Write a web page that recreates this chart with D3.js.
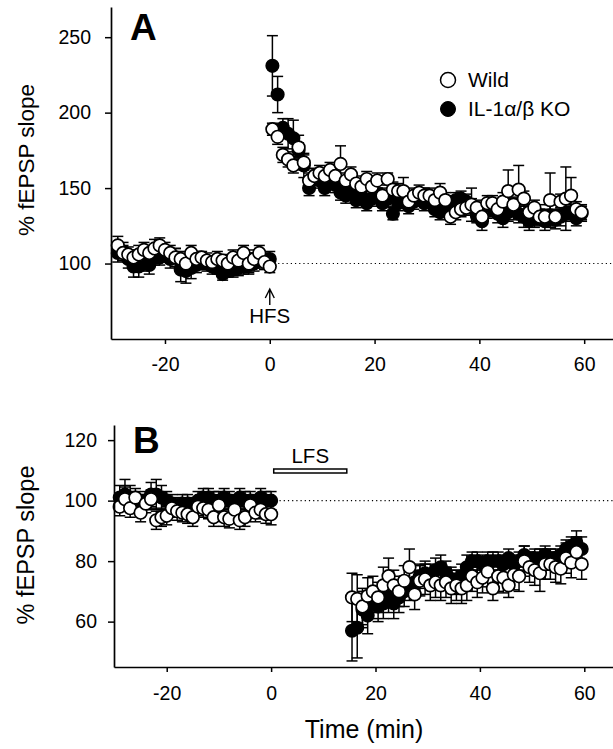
<!DOCTYPE html>
<html>
<head>
<meta charset="utf-8">
<script src="https://cdn.jsdelivr.net/npm/d3@7"></script>
<style>
  body { margin: 0; background: #ffffff; }
  svg { display: block; font-family: Arial, "Liberation Sans", sans-serif; }
</style>
</head>
<body>
<div id="main_output"></div>
<script>
// minutes before stimulation (shared by both panels)
var timeBase = [-29,-28,-27,-26,-25,-24,-23,-22,-21,-20,-19,-18,-17,-16,-15,-14,-13,-12,-11,-10,-9,-8,-7,-6,-5,-4,-3,-2,-1,0];

// panel A - HFS (LTP)
var timePostA = [0.5,1.5,2.5,3.5,4.5,5.5,6.5,7.5,8.5,9.5,10.5,11.5,12.5,13.5,14.5,15.5,16.5,17.5,18.5,19.5,
                 20.5,21.5,22.5,23.5,24.5,25.5,26.5,27.5,28.5,29.5,30.5,31.5,32.5,33.5,34.5,35.5,36.5,37.5,38.5,39.5,
                 40.5,41.5,42.5,43.5,44.5,45.5,46.5,47.5,48.5,49.5,50.5,51.5,52.5,53.5,54.5,55.5,56.5,57.5,58.5,59.5];
var wildBaseA = [112,107,106,104,106,109,107,110,112,109,107,104,103,100,107,103,104,102,101,103,102,100,104,102,107,100,103,107,101,98];
var wildBaseErrA = [6,5,5,5,6,5,5,6,5,5,5,6,5,6,5,5,4,5,4,5,4,5,5,5,5,7,6,5,5,4];
var koBaseA = [107,108,103,98,98,101,99,104,104,106,103,104,96,95,97,99,101,100,98,97,93,95,96,97,98,99,100,103,102,103];
var koBaseErrA = [6,6,6,7,7,6,6,5,5,5,6,6,8,8,7,5,5,5,5,4,4,4,5,5,5,5,5,5,5,5];
var wildPostA = [189,184,172,169,165,177,167,155,158,160,158,162,158,166,155,159,153,151,156,151,
                 155,145,156,149,148,148,141,145,147,145,145,142,147,142,131,134,136,137,139,137,
                 131,140,140,136,141,148,139,149,143,134,137,131,131,142,131,141,143,145,136,134];
var wildPostErrA = [4,5,5,5,5,8,5,5,5,5,5,5,5,12,5,5,5,5,5,5,
                    5,5,4,5,5,9,5,5,5,5,5,5,6,5,5,5,5,5,11,5,
                    5,5,5,5,6,14,5,16,5,5,5,5,5,18,5,5,21,12,5,5];
var koPostA = [231,212,190,186,183,175,165,150,158,155,150,155,152,147,145,147,142,145,140,143,
               145,140,143,133,140,143,138,141,143,140,142,136,134,137,140,142,143,141,138,132,
               128,135,136,133,130,134,136,133,131,128,130,132,128,132,129,131,133,134,130,133];
var koPostErrA = [20,12,6,10,12,5,8,5,5,5,5,5,5,5,5,5,5,5,5,5,
                  5,5,5,4,5,5,5,5,5,5,5,5,5,5,5,5,5,5,5,5,
                  6,5,5,6,6,6,7,6,7,6,6,7,6,7,6,6,5,5,5,5];

// panel B - LFS (LTD)
var timePostB = [15.5,16.5,17.5,18.5,19.5,20.5,21.5,22.5,23.5,24.5,25.5,26.5,27.5,28.5,29.5,30.5,31.5,32.5,33.5,34.5,
                 35.5,36.5,37.5,38.5,39.5,40.5,41.5,42.5,43.5,44.5,45.5,46.5,47.5,48.5,49.5,50.5,51.5,52.5,53.5,54.5,
                 55.5,56.5,57.5,58.5,59.5];
var wildBaseB = [98,100.5,97.5,101,96,99,100.5,93.5,94.5,95,97.5,96.5,96,95.5,94.5,98,97.5,97,94.5,98.5,94.5,94,97,93.5,94.5,98.5,96,97,95.5,95.5];
var wildBaseErrB = [3,4,3,3,3,3,3,3,3,3,3,3,3,3,3,3,3,3,3,3,3,3,3,3,3,3,3,3,3,3.5];
var koBaseB = [101,102,101,100,99,100,102,102,101,100,99,98,99,99,98,100,101,101,100,100,101,100,99,101,100,100,99,101,100,100];
var koBaseErrB = [4,5,4,3,3,3,4,5,4,3,3,3,3,3,3,3,3,3,3,3,3,3,3,3,3,3,3,3,3,3];
var wildPostB = [68,67.5,65,68.5,70,68,72,75,72,70,73.5,78,69,73.5,74,72,73,72,73,71,
                 72,71,72,75,73,74.5,76.5,71,75,74.5,72,75.5,75,80,78,77,76,79,79,78,
                 77.5,81,79.5,83,79];
var wildPostErrB = [8,8,6,6,5,5,6,6,5,5,5,6,5,5,5,5,5,5,5,5,
                    5,5,5,5,5,5,5,4,5,5,4,5,5,5,5,5,6,5,5,5,
                    5,5,5,5,5];
var koPostB = [57,58,64,62,66,65,66,68,66,68,70,72,73,75,76,75,77,78,76,74,
               73,75,78,80,80,79,80,80,80,79,81,79,80,82,80,81,81,82,80,81,
               82,84,85,86,84];
var koPostErrB = [10,10,6,6,5,5,5,5,5,5,5,5,4,4,4,4,4,4,4,4,
                  4,4,4,3,3,3,3,3,3,3,3,3,3,3,3,3,3,3,3,3,
                  3,3,3,4,4];

var xTicks = [-20, 0, 20, 40, 60];
var yTicksA = [100, 150, 200, 250];
var yTicksB = [60, 80, 100, 120];
var baselineLevel = 100;
var lfsStart = 0.5, lfsEnd = 14.5;

const width = 613, height = 749;
const radius = 6.3, capHalf = 5.5;

var svg = d3.select("#main_output").append("svg")
    .attr("width", width)
    .attr("height", height);

function zip(times, values, errs) {
  return times.map(function(t, i) { return {t: t, v: values[i], e: errs[i]}; });
}

function drawPanel(p) {
  var x = d3.scaleLinear().domain(p.xDomain).range(p.xRange);
  var y = d3.scaleLinear().domain(p.yDomain).range(p.yRange);
  var g = svg.append("g").attr("class", "panel");

  // dotted 100% reference line
  g.append("line")
    .attr("x1", x(0)).attr("x2", width)
    .attr("y1", y(baselineLevel)).attr("y2", y(baselineLevel))
    .attr("stroke", "#000").attr("stroke-width", 1.1)
    .attr("stroke-dasharray", "1.2,3");

  var wild = zip(timeBase, p.wildBase, p.wildBaseErr).concat(zip(p.timePost, p.wildPost, p.wildPostErr));
  var ko = zip(timeBase, p.koBase, p.koBaseErr).concat(zip(p.timePost, p.koPost, p.koPostErr));

  // error bars first so the circles sit on top
  [ko, wild].forEach(function(series) {
    var eb = g.append("g").attr("stroke", "#000").attr("stroke-width", 1.5).attr("fill", "none");
    series.forEach(function(d) {
      var cx = x(d.t);
      eb.append("line").attr("x1", cx).attr("x2", cx).attr("y1", y(d.v - d.e)).attr("y2", y(d.v + d.e));
      eb.append("line").attr("x1", cx - capHalf).attr("x2", cx + capHalf).attr("y1", y(d.v + d.e)).attr("y2", y(d.v + d.e));
      eb.append("line").attr("x1", cx - capHalf).attr("x2", cx + capHalf).attr("y1", y(d.v - d.e)).attr("y2", y(d.v - d.e));
    });
  });

  g.append("g").selectAll("circle")
    .data(ko).enter().append("circle")
    .attr("cx", function(d) { return x(d.t); })
    .attr("cy", function(d) { return y(d.v); })
    .attr("r", radius)
    .attr("fill", "#000").attr("stroke", "#000").attr("stroke-width", 1.5);

  g.append("g").selectAll("circle")
    .data(wild).enter().append("circle")
    .attr("cx", function(d) { return x(d.t); })
    .attr("cy", function(d) { return y(d.v); })
    .attr("r", radius)
    .attr("fill", "#fff").attr("stroke", "#000").attr("stroke-width", 1.7);

  // axes
  var xAxis = g.append("g")
    .attr("transform", "translate(0," + p.yRange[0] + ")")
    .call(d3.axisBottom(x).tickValues(xTicks).tickSize(5).tickSizeOuter(0).tickPadding(p.xPad).tickFormat(d3.format("d")));
  var yAxis = g.append("g")
    .attr("transform", "translate(" + p.xRange[0] + ",0)")
    .call(d3.axisLeft(y).tickValues(p.yTicks).tickSize(6).tickSizeOuter(0).tickPadding(p.yPad));
  [xAxis, yAxis].forEach(function(a) {
    a.select(".domain").attr("stroke", "#000").attr("stroke-width", 1.7);
    a.selectAll(".tick line").attr("stroke", "#000").attr("stroke-width", 1.5);
    a.selectAll(".tick text").attr("fill", "#000").attr("font-size", "19.5px").attr("font-family", "Arial, 'Liberation Sans', sans-serif");
  });
  xAxis.selectAll(".tick text").text(function(d) { return d < 0 ? "-" + Math.abs(d) : d; });

  // y title
  g.append("text")
    .attr("transform", "translate(34," + p.titleY + ") rotate(-90)")
    .attr("text-anchor", "middle")
    .attr("font-size", p.titleSize + "px")
    .text("% fEPSP slope");

  // panel letter
  g.append("text")
    .attr("x", p.xRange[0] + 19).attr("y", p.letterY)
    .attr("font-size", "37px").attr("font-weight", "bold")
    .text(p.letter);

  return {x: x, y: y, g: g};
}

var A = drawPanel({
  letter: "A", letterY: 40,
  xDomain: [-30.3, 65.5], xRange: [111, 613],
  yDomain: [50, 270], yRange: [339, 7],
  yTicks: yTicksA, xPad: 13, yPad: 14,
  titleY: 160, titleSize: 22.5,
  timePost: timePostA,
  wildBase: wildBaseA, wildBaseErr: wildBaseErrA, wildPost: wildPostA, wildPostErr: wildPostErrA,
  koBase: koBaseA, koBaseErr: koBaseErrA, koPost: koPostA, koPostErr: koPostErrA
});

var B = drawPanel({
  letter: "B", letterY: 453,
  xDomain: [-30.1, 65.5], xRange: [114, 613],
  yDomain: [45, 125], yRange: [667, 425],
  yTicks: yTicksB, xPad: 14, yPad: 11,
  titleY: 545, titleSize: 23.5,
  timePost: timePostB,
  wildBase: wildBaseB, wildBaseErr: wildBaseErrB, wildPost: wildPostB, wildPostErr: wildPostErrB,
  koBase: koBaseB, koBaseErr: koBaseErrB, koPost: koPostB, koPostErr: koPostErrB
});

// HFS arrow at time 0
var ax = A.x(0);
A.g.append("path")
  .attr("d", "M" + ax + ",305 L" + ax + ",289 M" + (ax - 4.5) + ",298 L" + ax + ",289 L" + (ax + 4.5) + ",298")
  .attr("fill", "none").attr("stroke", "#000").attr("stroke-width", 1.4);
A.g.append("text")
  .attr("x", ax).attr("y", 323)
  .attr("text-anchor", "middle").attr("font-size", "20.5px")
  .text("HFS");

// legend
var legend = A.g.append("g");
legend.append("circle").attr("cx", 448).attr("cy", 80).attr("r", 7.5)
  .attr("fill", "#fff").attr("stroke", "#000").attr("stroke-width", 1.5);
legend.append("text").attr("x", 468).attr("y", 87).attr("font-size", "21px").text("Wild");
legend.append("circle").attr("cx", 448).attr("cy", 109).attr("r", 7.5)
  .attr("fill", "#000").attr("stroke", "#000");
legend.append("text").attr("x", 468).attr("y", 116).attr("font-size", "21px").text("IL-1\u03b1/\u03b2 KO");

// LFS bar
B.g.append("rect")
  .attr("x", B.x(lfsStart)).attr("width", B.x(lfsEnd) - B.x(lfsStart))
  .attr("y", 469).attr("height", 4)
  .attr("fill", "#fff").attr("stroke", "#000").attr("stroke-width", 1.5);
B.g.append("text")
  .attr("x", (B.x(lfsStart) + B.x(lfsEnd)) / 2).attr("y", 463)
  .attr("text-anchor", "middle").attr("font-size", "20.5px")
  .text("LFS");

// shared x title
svg.append("text")
  .attr("x", 364).attr("y", 738)
  .attr("text-anchor", "middle").attr("font-size", "25px")
  .text("Time (min)");
</script>
</body>
</html>
